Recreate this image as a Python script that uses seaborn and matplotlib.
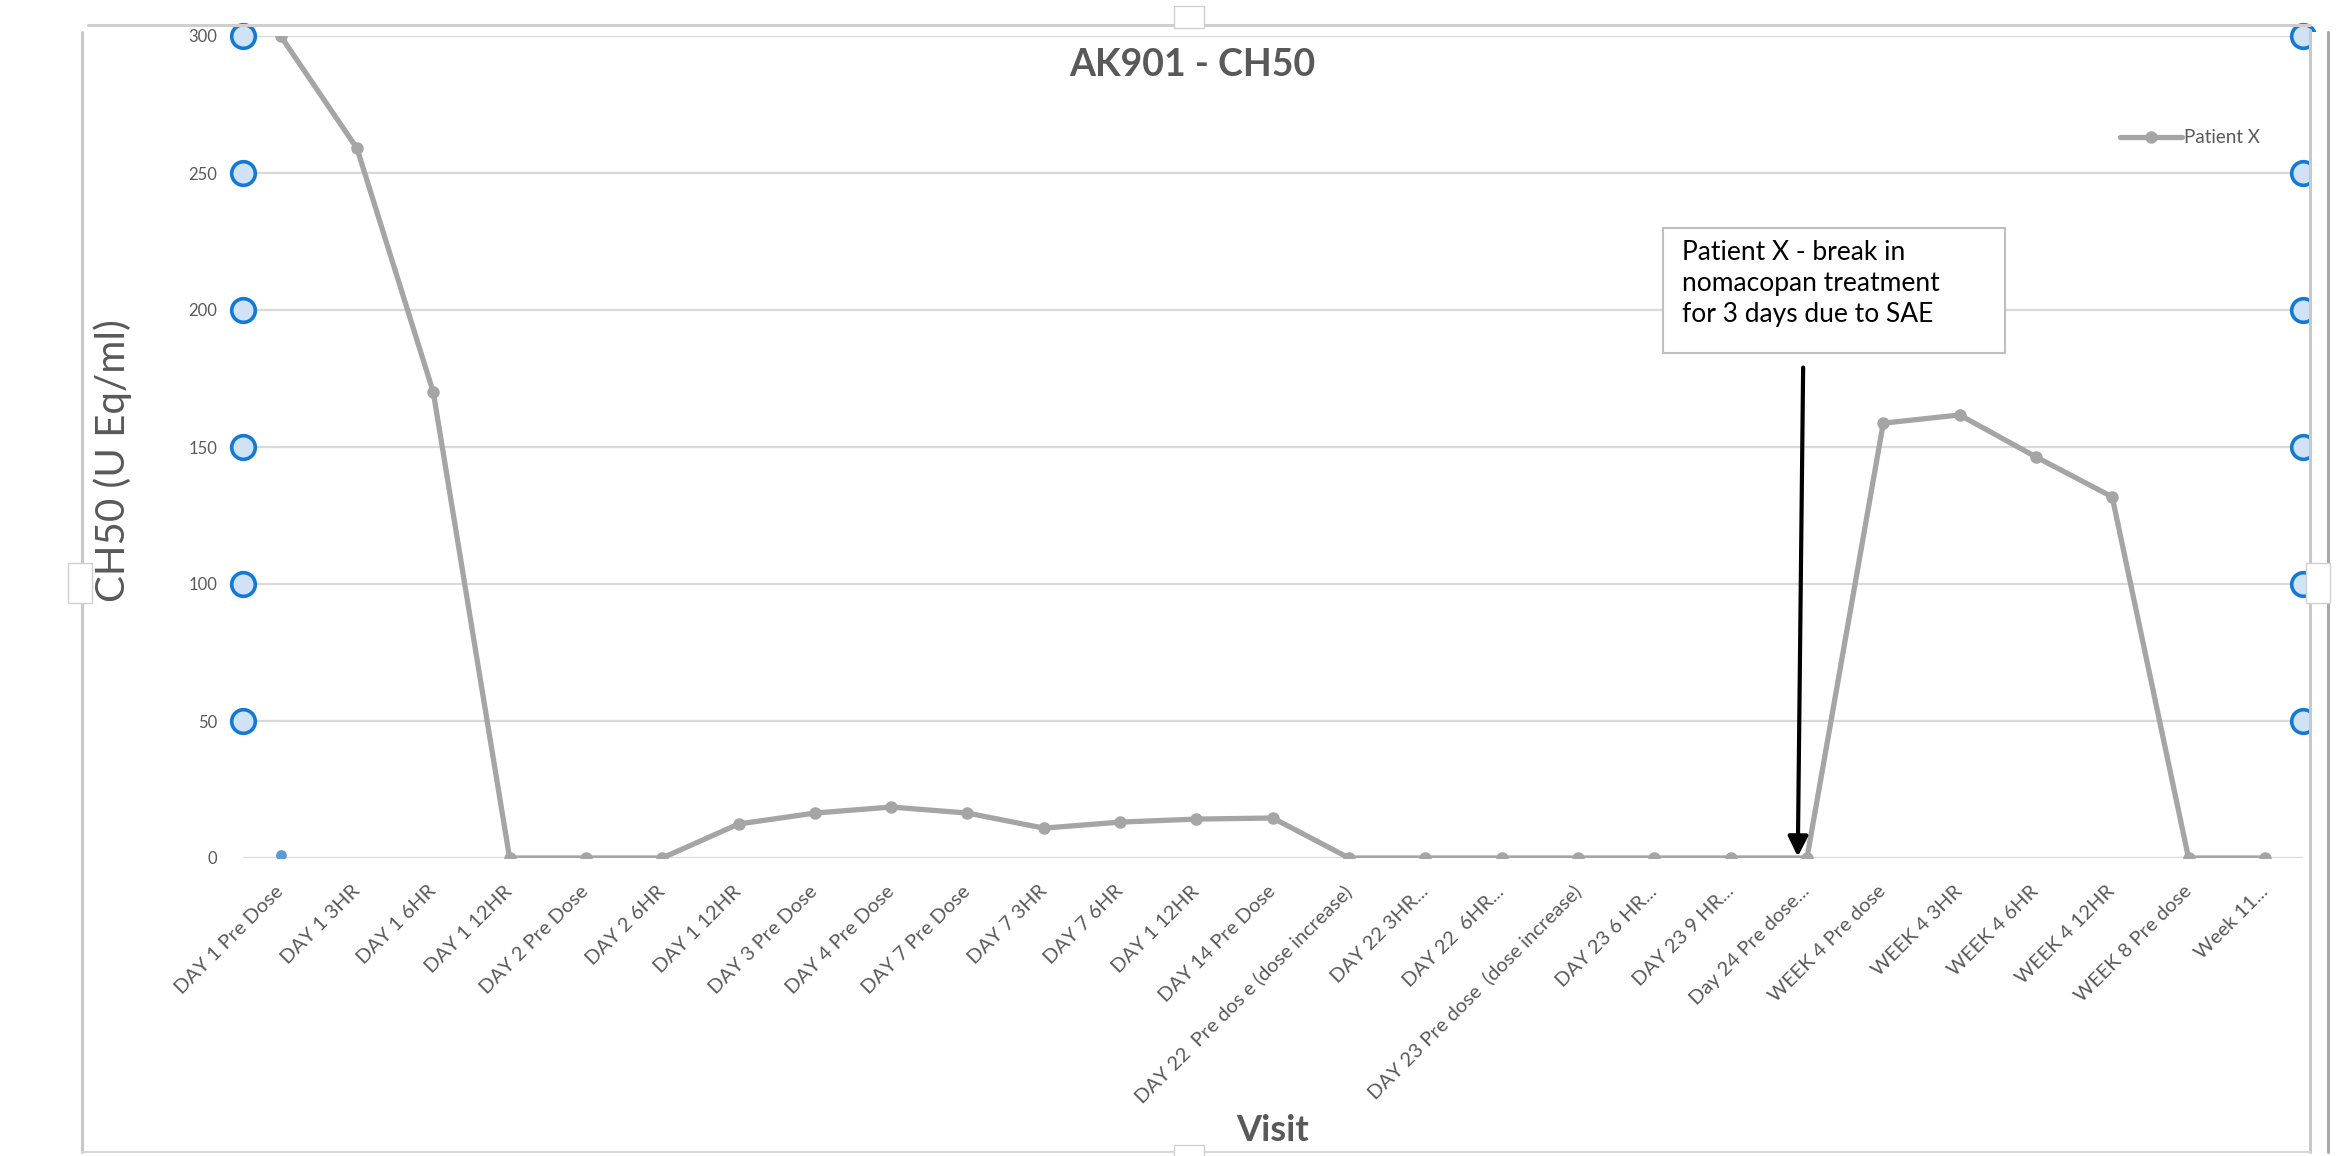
import numpy as np
import pandas as pd
import matplotlib
matplotlib.use("Agg")
import matplotlib.pyplot as plt
import matplotlib.patches as mpatches
from matplotlib.lines import Line2D
import seaborn as sns

# visits on the x axis (as shown, truncated labels kept)
visits = ["DAY 1 Pre Dose", "DAY 1 3HR", "DAY 1 6HR", "DAY 1 12HR", "DAY 2 Pre Dose",
          "DAY 2 6HR", "DAY 1 12HR", "DAY 3 Pre Dose", "DAY 4 Pre Dose", "DAY 7 Pre Dose",
          "DAY 7 3HR", "DAY 7 6HR", "DAY 1 12HR", "DAY 14 Pre Dose",
          "DAY 22  Pre dos e (dose increase)", "DAY 22 3HR...", "DAY 22  6HR...",
          "DAY 23 Pre dose  (dose increase)", "DAY 23 6 HR...", "DAY 23 9 HR...",
          "Day 24 Pre dose...", "WEEK 4 Pre dose", "WEEK 4 3HR", "WEEK 4 6HR",
          "WEEK 4 12HR", "WEEK 8 Pre dose", "Week 11..."]

# CH50 values for Patient X
patient_x = [300, 259, 170, 0, 0, 0, 12.4, 16.4, 18.6, 16.4, 10.9, 13.1, 14.2, 14.6,
             0, 0, 0, 0, 0, 0, 0, 158.7, 161.7, 146.4, 131.8, 0, 0]

# stray point from the second series (first visit only)
other_visit = [0]
other_value = [1]

y_ticks = [0, 50, 100, 150, 200, 250, 300]
handle_ticks = [50, 100, 150, 200, 250, 300]

note = "Patient X - break in\nnomacopan treatment\nfor 3 days due to SAE"
break_visit = 20  # Day 24 Pre dose

sns.set_theme(style="white")
plt.rcParams['font.family'] = ['Lato', 'DejaVu Sans']

W, H = 2344, 1156
fig = plt.figure(figsize=(W / 100, H / 100), dpi=100)
ax = fig.add_axes([242.5 / W, 1 - 858 / H, (2303 - 242.5) / W, 822 / H])

df = pd.DataFrame({'pos': np.arange(len(visits)), 'ch50': patient_x})
sns.lineplot(data=df, x='pos', y='ch50', sort=False, color='#a5a5a5', linewidth=3.8,
             marker='o', markersize=9, markeredgewidth=0, label='Patient X', ax=ax, zorder=3)
sns.scatterplot(x=other_visit, y=other_value, color='#5b9bd5', s=60, linewidth=0,
                legend=False, ax=ax, zorder=4)

ax.set_xlim(-0.5, len(visits) - 0.5)
ax.set_ylim(0, 300)
ax.set_yticks(y_ticks)
ax.set_xticks(np.arange(len(visits)))
ax.set_xticklabels(visits, rotation=45, ha='right', va='center', rotation_mode='anchor')
ax.tick_params(axis='x', length=0, pad=22, labelsize=14.5, labelcolor='#595959')
ax.tick_params(axis='y', length=0, pad=18, labelsize=12, labelcolor='#595959')
ax.yaxis.grid(True, color='#d9d9d9', linewidth=1.6)
ax.xaxis.grid(False)
for s in ax.spines.values():
    s.set_visible(False)

# selection handles on the value axis (as in the screenshot)
for xa in [0, 1]:
    ax.plot([xa] * len(handle_ticks), handle_ticks, transform=ax.get_yaxis_transform(),
            ls='none', marker='o', markersize=17, markerfacecolor='#cfe2f6',
            markeredgecolor='#1279d6', markeredgewidth=2.6, clip_on=False, zorder=5)

ax.set_xlabel('Visit', fontsize=26, fontweight='bold', color='#595959')
ax.xaxis.set_label_coords(0.5, -0.331)
ax.xaxis.label.set_va('center')
ax.set_ylabel('CH50 (U Eq/ml)', fontsize=29, color='#595959')
ax.yaxis.set_label_coords(-0.0628, 0.484)
ax.yaxis.label.set_va('center')

ax.text(0.4608, 0.965, 'AK901 - CH50', transform=ax.transAxes, ha='center', va='center',
        fontsize=27, fontweight='bold', color='#595959')

leg = ax.legend(loc='center right', bbox_to_anchor=(0.979, 0.876), frameon=False,
                fontsize=13.5, handlelength=3.3, handletextpad=0.1, borderpad=0,
                borderaxespad=0)
for t in leg.get_texts():
    t.set_color('#595959')

# annotation box and arrow
box = mpatches.Rectangle((0.6894, 0.6144), 0.8554 - 0.6894, 0.7664 - 0.6144,
                         transform=ax.transAxes, facecolor='white', edgecolor='#bfbfbf',
                         linewidth=1.5, zorder=6)
ax.add_patch(box)
ax.text(0.6985, 0.7520, note, transform=ax.transAxes, ha='left', va='top', fontsize=19,
        color='black', linespacing=1.3, zorder=7)
ax.annotate('', xy=(break_visit - 0.12, patient_x[break_visit] + 0.5),
            xytext=(break_visit - 0.05, 179), arrowprops=dict(arrowstyle='-|>', color='black',
            lw=3, mutation_scale=30, shrinkA=0, shrinkB=0), zorder=7)

# chart frame (Excel selection border)
def fl(x0, y0, x1, y1, color, lw, z=6):
    fig.add_artist(Line2D([x0 / W, x1 / W], [1 - y0 / H, 1 - y1 / H], color=color,
                          linewidth=lw, zorder=z))

fig.add_artist(mpatches.Rectangle((2311 / W, 1 - 1152 / H), 16 / W, 1120 / H,
                                  transform=fig.transFigure, facecolor='white',
                                  edgecolor='none', zorder=5))
fl(82, 32, 82, 1152, '#c8c8c8', 2.2)
fl(88, 25, 2310, 25, '#cfcfcf', 2.2)
fl(2310, 30, 2310, 1152, '#c8c8c8', 2.2)
fl(2328, 32, 2328, 1152, '#a8a8a8', 2.2)
fl(82, 1152, 2310, 1152, '#d8d8d8', 1.5)

for cx, cy, w, h in [(1189, 17, 30, 22), (80, 583, 24, 40), (2318, 583, 24, 40),
                     (1189, 1152, 30, 14)]:
    fig.add_artist(mpatches.Rectangle(((cx - w / 2) / W, 1 - (cy + h / 2) / H), w / W, h / H,
                                      transform=fig.transFigure, facecolor='white',
                                      edgecolor='#d0d0d0', linewidth=1, zorder=7))

fig.savefig('out.png', dpi=100, facecolor='white')
